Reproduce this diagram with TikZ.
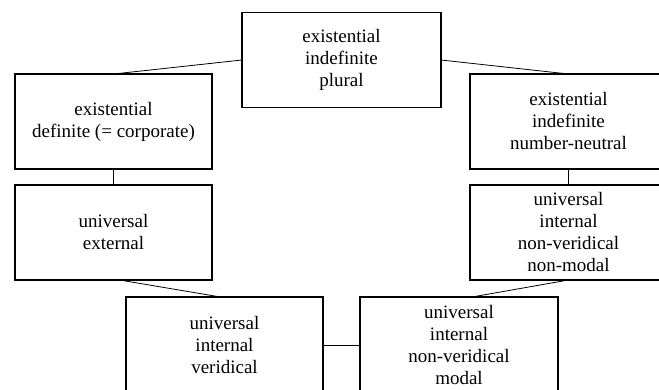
\documentclass[tikz,border=0pt]{standalone}
\usepackage{fontspec}
\setmainfont{Liberation Serif}
\usetikzlibrary{positioning}

\begin{document}
\begin{tikzpicture}[
			node distance=16pt,
			every node/.style={
					draw,
					line width=1.8pt,
					align=center,
					outer sep=0pt,
					minimum width=197pt,
					minimum height=95pt,
					font=\fontsize{19}{22}\selectfont
				},
			link/.style={line width=0.8pt}
		]

		\useasboundingbox (0,0) rectangle (659pt,389pt);
		\clip (0,0) rectangle (659pt,389pt);

		\node[minimum width=199pt] (plural) at (341.5pt,329pt)
		{existential\\indefinite\\plural};

		\node (definite) at (113.5pt,267.5pt)
		{existential\\definite (= corporate)};

		\node (neutral) at (568.5pt,267.5pt)
		{existential\\indefinite\\number-neutral};

		\node[below=of definite] (external)
		{universal\\external};

		\node[below=of neutral] (nonmodal)
		{universal\\internal\\non-veridical\\non-modal};

		\node[minimum height=96pt] (veridical) at (224.5pt,44pt)
		{universal\\internal\\veridical};

		\node[right=37pt of veridical,minimum width=198pt,minimum height=96pt] (modal)
		{universal\\internal\\non-veridical\\modal};

		\draw[link] (plural.west)--(definite.north);
		\draw[link] (plural.east)--(neutral.north);

		\draw[link] (definite)--(external);
		\draw[link] (neutral)--(nonmodal);

		\draw[link] ([xshift=6pt]external.south)--([xshift=-4pt]veridical.north);
		\draw[link] (nonmodal.south)--([xshift=13pt]modal.north);

		\draw[link] (veridical)--(modal);

	\end{tikzpicture}
\end{document}
